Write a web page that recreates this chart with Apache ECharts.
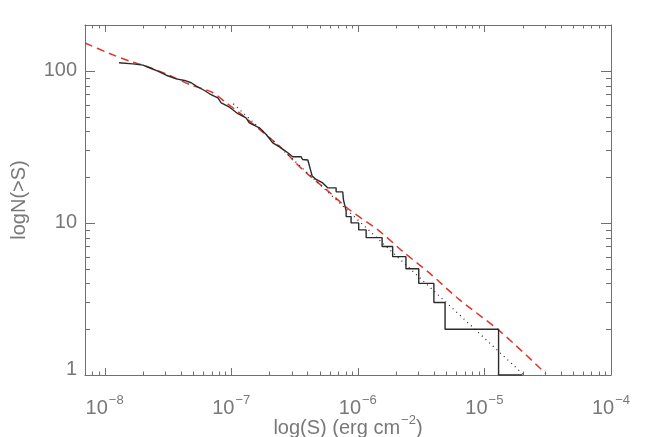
<!DOCTYPE html>
<html>
<head>
<meta charset="utf-8">
<script src="https://cdn.jsdelivr.net/npm/echarts@6/dist/echarts.min.js"></script>
<style>
    html, body { margin: 0; padding: 0; background: #fff; }
    #chart { width: 658px; height: 437px; }
</style>
</head>
<body>
<div id="chart"></div>
<script>
    // cumulative source counts N(>S), corners
    var fluxSteps = [
        1.30e-8, 1.67e-8, 2.01e-8, 2.34e-8, 2.63e-8, 3.07e-8, 3.68e-8, 4.28e-8, 4.83e-8, 5.30e-8,
        6.15e-8, 6.74e-8, 7.84e-8, 8.34e-8, 9.70e-8, 1.13e-7, 1.31e-7, 1.39e-7, 1.67e-7, 1.89e-7,
        2.13e-7, 2.48e-7, 2.80e-7, 3.06e-7, 3.57e-7, 3.66e-7, 4.03e-7, 4.36e-7, 4.69e-7, 5.28e-7,
        5.78e-7, 6.74e-7, 6.74e-7, 7.60e-7, 7.70e-7, 7.90e-7, 8.09e-7, 8.09e-7, 8.85e-7, 8.85e-7,
        1.016e-6, 1.016e-6, 1.164e-6, 1.164e-6, 1.556e-6, 1.556e-6, 1.885e-6, 1.885e-6, 2.40e-6, 2.40e-6,
        3.03e-6, 3.03e-6, 3.99e-6, 3.99e-6, 4.89e-6, 4.89e-6, 1.294e-5, 1.294e-5, 2.0e-5
    ];
    var countSteps = [
        113, 111, 109, 103.5, 99.4, 93.5, 88.5, 86.4, 83.4, 79.2,
        74.2, 70.6, 66.4, 61.5, 57.6, 52.2, 49.1, 45.5, 42.2, 38.1,
        33.6, 31.1, 28.9, 27.2, 27.2, 26.1, 25.9, 20.3, 19.3, 18.3,
        17, 17, 16, 16, 14.2, 13, 12, 11, 11, 10,
        10, 9, 9, 8, 8, 7, 7, 6, 6, 5,
        5, 4, 4, 3, 3, 2, 2, 1, 1
    ];
    // dotted power law (end points)
    var fitFlux = [1.04e-7, 2.0e-5];
    var fitCount = [60.7, 1.02];
    // red dashed curved model
    var curveFlux = [
        7e-9, 1.094e-8, 1.574e-8, 2.13e-8, 3.14e-8, 4.69e-8, 7.12e-8, 9.13e-8, 1.165e-7, 1.675e-7,
        2.41e-7, 3.67e-7, 5.62e-7, 8.59e-7, 1.482e-6, 2.26e-6, 3.67e-6, 6.34e-6, 1.312e-5, 3.06e-5
    ];
    var curveCount = [
        152.4, 130, 115.7, 107.2, 94.6, 81.3, 72.0, 61.6, 52.9, 41.1,
        31.9, 22.4, 16.6, 12.2, 8.83, 6.50, 4.69, 3.13, 1.956, 1.02
    ];

    var xMajorTicks = [1e-8, 1e-7, 1e-6, 1e-5, 1e-4];
    var yMajorTicks = [1, 10, 100];
    var xMin = 7e-9, xMax = 1e-4, yMin = 1, yMax = 200;

    var axisColor = '#707070';
    var textColor = '#787878';
    var fontFamily = '"Liberation Sans", Arial, sans-serif';

    function zip(a, b) {
        return a.map(function (v, i) { return [v, b[i]]; });
    }

    function isPow10(v) {
        var l = Math.log10(v);
        return Math.abs(l - Math.round(l)) < 1e-6;
    }

    // tick marks on all four sides: [value, length]
    var xTickData = [], yTickData = [];
    xMajorTicks.forEach(function (m) {
        xTickData.push([m, 7]);
        for (var k = 2; k <= 9; k++) {
            var v = m * k;
            if (v < xMax) xTickData.push([v, 3.5]);
        }
    });
    [8e-9, 9e-9].forEach(function (v) { xTickData.push([v, 3.5]); });
    yMajorTicks.forEach(function (m) {
        yTickData.push([m, 10]);
        for (var k = 2; k <= 9; k++) {
            var v = m * k;
            if (v < yMax) yTickData.push([v, 5]);
        }
    });

    var chart = echarts.init(document.getElementById('chart'));

    var superRich = {
        b: { fontSize: 20, color: textColor, fontFamily: fontFamily },
        s: { fontSize: 13, color: textColor, fontFamily: fontFamily, padding: [0, 0, 15, 1] },
        one: { fontSize: 20, color: textColor, fontFamily: fontFamily, padding: [0, 0, 12, 0] }
    };

    chart.setOption({
        animation: false,
        backgroundColor: '#fff',
        grid: { left: 85, top: 25, right: 47, bottom: 62, containLabel: false, outerBoundsMode: 'none' },
        xAxis: [{
            type: 'log', min: xMin, max: xMax, position: 'bottom',
            axisLine: { show: true, lineStyle: { color: axisColor, width: 1 } },
            axisTick: { show: false },
            splitLine: { show: false },
            axisLabel: {
                margin: 19,
                rich: superRich,
                formatter: function (v) {
                    if (!isPow10(v)) return '';
                    var e = Math.round(Math.log10(v));
                    return '{b|10}{s|' + (e < 0 ? '\u2212' : '') + Math.abs(e) + '}';
                }
            },
            name: '{b|log(S) (erg cm}{s|\u22122}{b|)}',
            nameLocation: 'middle',
            nameGap: 53,
            nameMoveOverlap: false,
            nameTextStyle: { rich: superRich, verticalAlign: 'middle' }
        }, {
            type: 'log', min: xMin, max: xMax, position: 'top',
            axisLine: { show: true, lineStyle: { color: axisColor, width: 1 } },
            axisTick: { show: false }, axisLabel: { show: false }, splitLine: { show: false }
        }],
        yAxis: [{
            type: 'log', min: yMin, max: yMax, position: 'left',
            axisLine: { show: true, lineStyle: { color: axisColor, width: 1 } },
            axisTick: { show: false },
            splitLine: { show: false },
            axisLabel: {
                margin: 8,
                color: textColor, fontSize: 20, fontFamily: fontFamily,
                rich: superRich,
                formatter: function (v) {
                    if (!isPow10(v)) return '';
                    if (Math.abs(v - 1) < 1e-9) return '{one|1}';
                    return '{b|' + Math.round(v) + '}';
                }
            },
            name: 'logN(>S)',
            nameLocation: 'middle',
            nameGap: 56,
            nameTextStyle: { color: textColor, fontSize: 20, fontFamily: fontFamily }
        }, {
            type: 'log', min: yMin, max: yMax, position: 'right',
            axisLine: { show: true, lineStyle: { color: axisColor, width: 1 } },
            axisTick: { show: false }, axisLabel: { show: false }, splitLine: { show: false }
        }],
        series: [{
            name: 'ticksX',
            type: 'custom',
            silent: true,
            z: 5,
            data: xTickData.map(function (d) { return [d[0], yMin, d[1]]; }),
            renderItem: function (params, api) {
                var cs = params.coordSys;
                var px = Math.round(api.coord([api.value(0), yMin])[0]) + 0.5;
                var len = api.value(2);
                var st = { stroke: axisColor, lineWidth: 1 };
                var bottom = cs.y + cs.height;
                return {
                    type: 'group', children: [
                        { type: 'line', shape: { x1: px, y1: bottom, x2: px, y2: bottom - len }, style: st },
                        { type: 'line', shape: { x1: px, y1: cs.y, x2: px, y2: cs.y + len }, style: st }
                    ]
                };
            }
        }, {
            name: 'ticksY',
            type: 'custom',
            silent: true,
            z: 5,
            data: yTickData.map(function (d) { return [xMin, d[0], d[1]]; }),
            renderItem: function (params, api) {
                var cs = params.coordSys;
                var py = Math.round(api.coord([xMin, api.value(1)])[1]) + 0.5;
                var len = api.value(2);
                var st = { stroke: axisColor, lineWidth: 1 };
                var right = cs.x + cs.width;
                return {
                    type: 'group', children: [
                        { type: 'line', shape: { x1: cs.x, y1: py, x2: cs.x + len, y2: py }, style: st },
                        { type: 'line', shape: { x1: right, y1: py, x2: right - len, y2: py }, style: st }
                    ]
                };
            }
        }, {
            name: 'model curve',
            type: 'line',
            data: zip(curveFlux, curveCount),
            showSymbol: false,
            symbol: 'none',
            smooth: 0.3,
            lineStyle: { color: '#e0352b', width: 1.5, type: [8, 5] },
            z: 3
        }, {
            name: 'power law',
            type: 'line',
            data: zip(fitFlux, fitCount),
            showSymbol: false,
            symbol: 'none',
            lineStyle: { color: '#222', width: 1.2, type: [1, 4] },
            z: 3
        }, {
            name: 'N(>S)',
            type: 'line',
            data: zip(fluxSteps, countSteps),
            showSymbol: false,
            symbol: 'none',
            lineStyle: { color: '#2a2a2a', width: 1.4 },
            z: 4
        }]
    });
</script>
</body>
</html>
